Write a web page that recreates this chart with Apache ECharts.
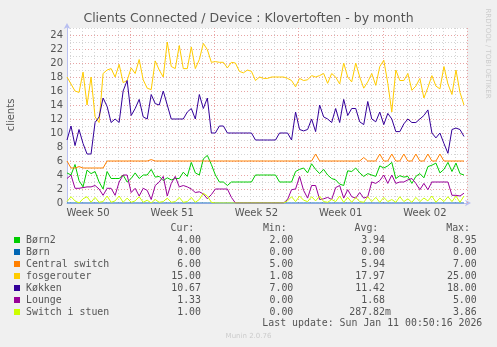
<!DOCTYPE html>
<html>
<head>
<meta charset="utf-8">
<script src="https://cdn.jsdelivr.net/npm/echarts@6/dist/echarts.min.js"></script>
<style>
  html, body { margin: 0; padding: 0; background: #f0f0f0; }
  #c { width: 497px; height: 347px; }
</style>
</head>
<body>
<div id="c"></div>
<script>
// Samples are 8 hours apart, starting at the left edge of the 33-day window.
const HOURS_PER_SAMPLE = 8;

const weekLabels = ['Week 50', 'Week 51', 'Week 52', 'Week 01', 'Week 02'];
const weekLabelHours = [42, 210, 378, 546, 714];   // middle of each week
const weekStartHours = [126, 294, 462, 630, 798];  // Monday 00:00
const dayStartHours = [6, 30, 54, 78, 102, 126, 150, 174, 198, 222, 246, 270, 294, 318, 342, 366, 390,
  414, 438, 462, 486, 510, 534, 558, 582, 606, 630, 654, 678, 702, 726, 750, 774, 798];

const born2 = [4.3, 4, 5.5, 3.2, 2.3, 4.7, 4.2, 4.5, 3, 2,
  4.5, 3.5, 3.5, 3.5, 4, 3, 3.5, 4.3, 3.5, 4,
  4, 4.8, 3.7, 3.8, 3.2, 3.6, 3.3, 3.5, 3.5, 4.4,
  3.8, 5.8, 4.3, 4, 6.3, 6.8, 5.5, 4, 3, 3,
  2.5, 3, 3, 3, 3, 3, 3, 4, 4, 4,
  4, 4, 4, 3, 3, 3, 3, 4.5, 4.8, 5,
  4.3, 5.6, 4.8, 4.2, 4.8, 4, 3.5, 3.3, 2.7, 2.5,
  4.6, 4.5, 5, 4.3, 3.8, 4.2, 4, 3.8, 5.3, 5,
  5.3, 5.8, 3.5, 3.9, 3.7, 3.8, 2.8, 3.8, 4.2, 3.6,
  5.2, 5.4, 5.7, 4.3, 4.8, 5.8, 4.5, 5.7, 4.2, 4];

const born = [0, 0, 0, 0, 0, 0, 0, 0, 0, 0,
  0, 0, 0, 0, 0, 0, 0, 0, 0, 0,
  0, 0, 0, 0, 0, 0, 0, 0, 0, 0,
  0, 0, 0, 0, 0, 0, 0, 0, 0, 0,
  0, 0, 0, 0, 0, 0, 0, 0, 0, 0,
  0, 0, 0, 0, 0, 0, 0, 0, 0, 0,
  0, 0, 0, 0, 0, 0, 0, 0, 0, 0,
  0, 0, 0, 0, 0, 0, 0, 0, 0, 0,
  0, 0, 0, 0, 0, 0, 0, 0, 0, 0,
  0, 0, 0, 0, 0, 0, 0, 0, 0, 0];

const centralSwitch = [6, 5, 5, 5.2, 5, 5, 5, 5, 5, 5,
  6, 6, 6, 6, 6, 6, 6, 6, 6, 6,
  6, 6.2, 6, 6, 6, 6, 6, 6, 6, 6,
  6, 6, 6, 6, 6, 6, 6, 6, 6, 6,
  6, 6, 6, 6, 6, 6, 6, 6, 6, 6,
  6, 6, 6, 6, 6, 6, 6, 6, 6, 6,
  6, 6, 7, 6, 6, 6, 6, 6, 6, 6,
  6, 6, 6, 6, 6.5, 6, 6, 6, 7, 6,
  6, 7, 6, 6, 7, 6, 6, 7, 6, 6,
  7, 6, 6, 7, 6, 6, 6, 6, 6, 6];

const fosgerouter = [18, 17, 16, 15.8, 18.7, 14, 18, 12.3, 11.5, 18.5,
  19, 19.2, 18, 19.8, 17.2, 17.5, 19.3, 18.5, 20.5, 17.6,
  16.4, 16.2, 20.3, 19, 18, 23, 19.5, 19.2, 22.5, 19.2,
  19.2, 22.3, 19.2, 20.5, 22.8, 21.9, 20.1, 20.2, 20.1, 20.1,
  19.3, 20.1, 20, 18.8, 18.6, 19, 18.8, 17.5, 18, 17.8,
  17.8, 18, 18, 18, 18, 17.8, 17.5, 16.6, 17.8, 17.5,
  17.6, 18.2, 18, 18.2, 18.5, 17.1, 18.5, 18, 17, 20,
  18, 17.3, 20, 18, 16.4, 17.3, 18.5, 16.8, 19.5, 20.4,
  17.1, 13, 19, 17.5, 17.5, 18.5, 16.1, 16.7, 17.8, 15,
  16.5, 18.2, 16.7, 16.3, 19.5, 17, 15.5, 19, 15.8, 14];

const kokken = [9, 11, 8.2, 10.5, 8.5, 7, 7, 11.5, 12.3, 15,
  13.8, 11.5, 12, 11.5, 16, 17.5, 12.5, 13.5, 14.8, 12.3,
  12, 15.5, 14.2, 14, 16, 14, 12, 12, 12, 12,
  13, 13.5, 12, 15.5, 13.5, 15, 10, 10, 11, 11,
  10, 10, 10, 10, 10, 10, 10, 9, 9, 9,
  9, 9, 9, 10, 10, 10, 9, 13, 10.5, 10.3,
  10.5, 12, 10.2, 14, 12.3, 12, 11.5, 13.5, 11.5, 14.8,
  12.5, 13.5, 13.5, 11.6, 11.2, 14.5, 12, 11.6, 13, 11.2,
  12.8, 12, 10.2, 10.2, 11.3, 12, 11.5, 11.5, 12, 12.5,
  13.3, 10, 9.3, 10, 8.5, 7.1, 10.5, 10.7, 10.5, 9.5];

const lounge = [3.5, 4, 2.1, 2.1, 2.2, 2.3, 2.3, 2.5, 2, 1.1,
  2.1, 2.1, 1.1, 3, 4, 4, 1.5, 2.1, 1, 2.1,
  1.8, 0.5, 2.5, 3, 3.8, 1, 2.8, 3.8, 2.3, 2.5,
  2.3, 2, 1.5, 1.6, 1.3, 0.6, 1.2, 2, 2, 2,
  2, 0.8, 0, 0, 0, 0, 0, 0, 0, 0,
  0, 0, 0, 0, 0, 0.5, 1.9, 2, 3.8, 1.8,
  0.7, 2.5, 2.5, 0.5, 0.6, 0.8, 0.5, 2.2, 2.5, 0.7,
  1.9, 0.9, 0.7, 1.5, 0.7, 0.9, 3, 2.8, 3.2, 4,
  2.8, 4, 2.8, 3, 3, 3.3, 3.5, 2.8, 1.9, 2.8,
  1.9, 3, 3, 3, 3, 3, 1.1, 1.1, 1, 1.4];

const switchStuen = [0.2, 0.9, 0.3, 0, 0.6, 0.9, 0.1, 0.8, 0.1, 0.2,
  1, 0.1, 0.3, 1, 0.1, 0.7, 0.1, 0.3, 0.9, 0.1,
  0.4, 0, 0.5, 0.1, 0.2, 0.7, 0.1, 0.2, 0.8, 0.1,
  0.2, 0.8, 0.1, 0.5, 1.4, 1, 0.1, 0, 0, 0,
  0, 0, 0, 0, 0, 0, 0, 0, 0, 0,
  0, 0, 0, 0, 0, 0.3, 0.9, 0.2, 1, 0.4,
  0.2, 0.9, 0.3, 1, 0.2, 0.1, 0.5, 0.2, 1, 0.1,
  0.8, 0.1, 0.8, 0.2, 0.1, 0.9, 0.2, 0.8, 0.1, 0.8,
  0.2, 0.5, 0.1, 0.9, 0.2, 0.6, 0.1, 0.8, 0.2, 0.7,
  0.3, 1, 0.1, 0.7, 0.2, 0.9, 0.2, 1, 0.1, 1];

const seriesNames = ['Børn2', 'Børn', 'Central switch', 'fosgerouter', 'Køkken', 'Lounge', 'Switch i stuen'];
const seriesValues = [born2, born, centralSwitch, fosgerouter, kokken, lounge, switchStuen];
const seriesColors = ['#00cc00', '#0066b3', '#ff8000', '#ffcc00', '#330099', '#990099', '#ccff00'];

const curText = ['4.00', '0.00', '6.00', '15.00', '10.67', '1.33', '1.00'];
const minText = ['2.00', '0.00', '5.00', '1.08', '7.00', '0.00', '0.00'];
const avgText = ['3.94', '0.00', '5.94', '17.97', '11.42', '1.68', '287.82m'];
const maxText = ['8.95', '0.00', '7.00', '25.00', '18.00', '5.00', '3.86'];
const columnHeads = ['Cur:', 'Min:', 'Avg:', 'Max:'];

const titleText = 'Clients Connected / Device : Klovertoften - by month';
const unitText = 'clients';
const updateText = 'Last update: Sun Jan 11 00:50:16 2026';
const sideText = 'RRDTOOL / TOBI OETIKER';
const footerText = 'Munin 2.0.76';

const SANS = '"DejaVu Sans", Verdana, sans-serif';
const MONO = '"DejaVu Sans Mono", monospace';
const TEXT = '#555555';
const MAJOR = '#e8a4a4';
const MINOR = '#d4d4d4';
const AXIS = '#b8bff0';

const chart = echarts.init(document.getElementById('c'), null, { renderer: 'canvas', width: 497, height: 347 });

// vertical grid: dotted line per day, stronger line per week
const verticalGrid = dayStartHours.map(h => ({
  xAxis: h,
  lineStyle: { color: weekStartHours.includes(h) ? MAJOR : MINOR, type: [1, 2], width: 1 }
}));

const series = seriesValues.map((vals, k) => {
  const s = {
    name: seriesNames[k],
    type: 'line',
    data: vals.map((v, i) => [i * HOURS_PER_SAMPLE, v]),
    showSymbol: false,
    symbol: 'none',
    lineStyle: { color: seriesColors[k], width: 1 },
    itemStyle: { color: seriesColors[k] },
    emphasis: { disabled: true },
    silent: true,
    z: 2
  };
  if (k === 0) {
    s.markLine = {
      z: 1,
      silent: true,
      symbol: ['none', 'none'],
      label: { show: false },
      emphasis: { disabled: true },
      animation: false,
      data: verticalGrid
    };
  }
  return s;
});

// legend table below the plot
const ROW0 = 240, ROW_STEP = 12, CHAR_W = 5.95;
const colRight = [201, 293.3, 385, 476.7];
const headRight = [194.3, 286.7, 378.3, 470];
const columns = [curText, minText, avgText, maxText];
const graphics = [];

graphics.push({ type: 'text', x: 248.5, y: 18.5, silent: true,
  style: { text: titleText, font: '12.5px ' + SANS, fill: TEXT, align: 'center', verticalAlign: 'middle' } });
graphics.push({ type: 'text', x: 11, y: 115, rotation: Math.PI / 2, silent: true,
  style: { text: unitText, font: '10px ' + SANS, fill: TEXT, align: 'center', verticalAlign: 'middle' } });
graphics.push({ type: 'text', x: 488, y: 53.5, rotation: -Math.PI / 2, silent: true,
  style: { text: sideText, font: '7px ' + SANS, fill: '#cccccc', align: 'center', verticalAlign: 'middle' } });

columnHeads.forEach((h, c) => {
  graphics.push({ type: 'text', x: headRight[c], y: ROW0 - ROW_STEP, silent: true,
    style: { text: h, font: '9.9px ' + MONO, fill: TEXT, align: 'right', verticalAlign: 'middle' } });
});

seriesNames.forEach((name, r) => {
  const y = ROW0 + r * ROW_STEP;
  graphics.push({ type: 'rect', silent: true, shape: { x: 14, y: y - 3, width: 6, height: 6 },
    style: { fill: seriesColors[r] } });
  graphics.push({ type: 'text', x: 26, y: y, silent: true,
    style: { text: name, font: '9.9px ' + MONO, fill: TEXT, align: 'left', verticalAlign: 'middle' } });
  columns.forEach((col, c) => {
    const t = col[r];
    const hasPrefix = /[a-zA-Z]$/.test(t);
    graphics.push({ type: 'text', x: colRight[c] + (hasPrefix ? CHAR_W : 0), y: y, silent: true,
      style: { text: t, font: '9.9px ' + MONO, fill: TEXT, align: 'right', verticalAlign: 'middle' } });
  });
});

graphics.push({ type: 'text', x: 482.3, y: ROW0 + 7 * ROW_STEP - 0.5, silent: true,
  style: { text: updateText, font: '9.9px ' + MONO, fill: TEXT, align: 'right', verticalAlign: 'middle' } });
graphics.push({ type: 'text', x: 248.5, y: 336, silent: true,
  style: { text: footerText, font: '7px ' + SANS, fill: '#cccccc', align: 'center', verticalAlign: 'middle' } });

chart.setOption({
  animation: false,
  backgroundColor: '#f0f0f0',
  grid: { left: 67, top: 28, width: 400, height: 175, show: true, backgroundColor: '#ffffff', borderWidth: 0 },
  xAxis: {
    type: 'value',
    min: 0,
    max: 798,
    axisLine: { show: true, lineStyle: { color: AXIS, width: 1 }, symbol: ['none', 'arrow'], symbolSize: [5, 6], symbolOffset: [0, 4] },
    axisTick: { show: false },
    splitLine: { show: false },
    axisLabel: {
      customValues: weekLabelHours,
      formatter: v => weekLabels[weekLabelHours.indexOf(v)] || '',
      color: TEXT,
      fontFamily: SANS,
      fontSize: 10,
      margin: 5
    }
  },
  yAxis: {
    type: 'value',
    min: 0,
    max: 25,
    interval: 1,
    axisLine: { show: true, lineStyle: { color: AXIS, width: 1 }, symbol: ['none', 'arrow'], symbolSize: [5, 6], symbolOffset: [0, 5] },
    axisTick: { show: false },
    splitLine: { show: true, lineStyle: { color: [MAJOR, MINOR], type: [1, 2], width: 1 } },
    axisLabel: {
      formatter: v => (v % 2 === 0 && v <= 24 ? String(v) : ''),
      color: TEXT,
      fontFamily: SANS,
      fontSize: 10,
      margin: 4
    }
  },
  series: series,
  graphic: graphics
});
</script>
</body>
</html>
